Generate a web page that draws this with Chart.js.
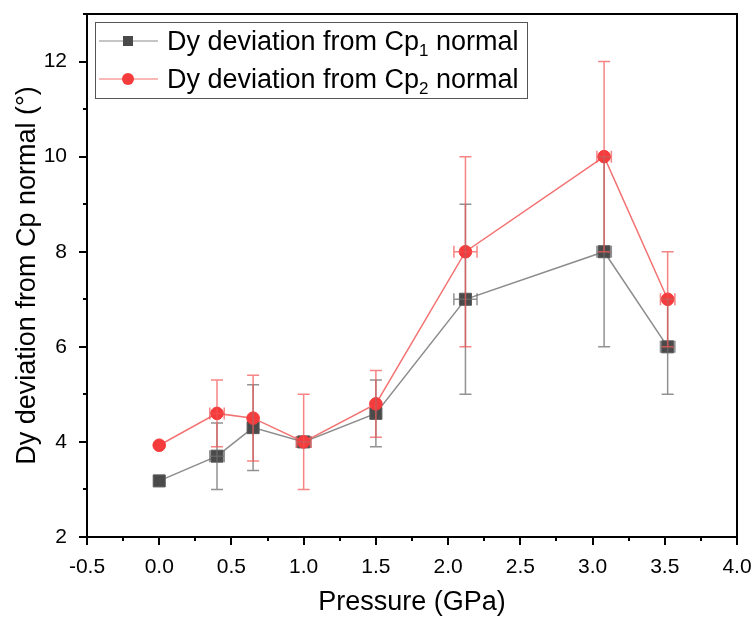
<!DOCTYPE html>
<html>
<head>
<meta charset="utf-8">
<script src="https://cdn.jsdelivr.net/npm/chart.js@4"></script>
<style>
  html, body { margin: 0; padding: 0; background: #fff; }
  #wrap { width: 755px; height: 619px; }
</style>
</head>
<body>
<div id="wrap"><canvas id="chart" width="755" height="619"></canvas></div>
<script>
// pressure (GPa)
const pressure = [0, 0.4, 0.65, 1.0, 1.5, 2.12, 3.08, 3.52];
const pressureErr = [0, 0.05, 0, 0.05, 0, 0.08, 0.05, 0.05];

// deviation from Cp1 normal (deg)
const cp1 = [3.18, 3.7, 4.3, 4.0, 4.6, 7.0, 8.0, 6.0];
const cp1Err = [0, 0.7, 0.9, 0, 0.7, 2.0, 2.0, 1.0];

// deviation from Cp2 normal (deg)
const cp2 = [3.93, 4.6, 4.5, 4.0, 4.8, 8.0, 10.0, 7.0];
const cp2Err = [0, 0.7, 0.9, 1.0, 0.7, 2.0, 2.0, 1.0];

const xTicks = [-0.5, 0, 0.5, 1.0, 1.5, 2.0, 2.5, 3.0, 3.5, 4.0];
const yTicks = [2, 4, 6, 8, 10, 12];

const FONT = "'Liberation Sans', Arial, sans-serif";

function points(ys) {
  return pressure.map((x, i) => ({ x: x, y: ys[i] }));
}

// error bars, frame, tick marks and legend
const extras = {
  id: "extras",
  afterDatasetsDraw(chart) {
    const ctx = chart.ctx;
    const xs = chart.scales.x, ys = chart.scales.y;
    const sets = [
      { y: cp1, e: cp1Err, color: "rgba(110,110,110,0.75)" },
      { y: cp2, e: cp2Err, color: "rgba(242,80,80,0.7)" },
    ];
    ctx.save();
    ctx.lineWidth = 1.5;
    sets.forEach(s => {
      ctx.strokeStyle = s.color;
      pressure.forEach((x, i) => {
        const px = xs.getPixelForValue(x);
        const py = ys.getPixelForValue(s.y[i]);
        if (s.e[i] > 0) {
          const top = ys.getPixelForValue(s.y[i] + s.e[i]);
          const bot = ys.getPixelForValue(s.y[i] - s.e[i]);
          ctx.beginPath();
          ctx.moveTo(px, top); ctx.lineTo(px, bot);
          ctx.moveTo(px - 6, top); ctx.lineTo(px + 6, top);
          ctx.moveTo(px - 6, bot); ctx.lineTo(px + 6, bot);
          ctx.stroke();
        }
        if (pressureErr[i] > 0) {
          const l = xs.getPixelForValue(x - pressureErr[i]);
          const r = xs.getPixelForValue(x + pressureErr[i]);
          ctx.beginPath();
          ctx.moveTo(l, py); ctx.lineTo(r, py);
          ctx.moveTo(l, py - 6); ctx.lineTo(l, py + 6);
          ctx.moveTo(r, py - 6); ctx.lineTo(r, py + 6);
          ctx.stroke();
        }
      });
    });
    ctx.restore();
  },
  afterDraw(chart) {
    const ctx = chart.ctx;
    const xs = chart.scales.x, ys = chart.scales.y;
    const L = Math.round(xs.getPixelForValue(-0.5));
    const R = Math.round(xs.getPixelForValue(4.0));
    const T = Math.round(ys.getPixelForValue(13));
    const B = Math.round(ys.getPixelForValue(2));
    ctx.save();
    ctx.fillStyle = "#000";
    // frame
    ctx.fillRect(L - 1, T - 1, R - L + 2, 2);
    ctx.fillRect(L - 1, B - 1, R - L + 2, 2);
    ctx.fillRect(L - 1, T - 1, 2, B - T + 2);
    ctx.fillRect(R - 1, T - 1, 2, B - T + 2);
    // x ticks: major + minor
    for (let k = 0; k <= 18; k++) {
      const v = -0.5 + k * 0.25;
      const px = Math.round(xs.getPixelForValue(v));
      const len = k % 2 === 0 ? 8 : 4;
      ctx.fillRect(px - 1, B, 2, len);
    }
    // y ticks
    for (let v = 2; v <= 13; v++) {
      const py = Math.round(ys.getPixelForValue(v));
      const len = v % 2 === 0 ? 8 : 4;
      ctx.fillRect(L - len, py - 1, len, 2);
    }

    // legend
    const bx = 95, by = 22, bw = 432, bh = 76;
    ctx.lineWidth = 1;
    ctx.strokeStyle = "#555";
    ctx.strokeRect(bx + 0.5, by + 0.5, bw, bh);
    const rows = [
      { sub: "1", line: "#8c8c8c", fill: "#4a4a4a", shape: "rect", cy: 41 },
      { sub: "2", line: "#f47272", fill: "#f53b3b", shape: "circle", cy: 79 },
    ];
    rows.forEach(r => {
      ctx.strokeStyle = r.line;
      ctx.lineWidth = 1.2;
      ctx.beginPath();
      ctx.moveTo(99, r.cy); ctx.lineTo(158, r.cy);
      ctx.stroke();
      ctx.fillStyle = r.fill;
      if (r.shape === "rect") {
        ctx.fillRect(123, r.cy - 5, 10, 10);
      } else {
        ctx.beginPath();
        ctx.arc(128, r.cy, 6, 0, Math.PI * 2);
        ctx.fill();
      }
      ctx.fillStyle = "#000";
      ctx.textBaseline = "alphabetic";
      ctx.textAlign = "left";
      ctx.font = "27px " + FONT;
      let tx = 167;
      const base = r.cy + 9;
      const t1 = "Dy deviation from Cp";
      ctx.fillText(t1, tx, base);
      tx += ctx.measureText(t1).width;
      ctx.font = "17px " + FONT;
      ctx.fillText(r.sub, tx, base + 6);
      tx += ctx.measureText(r.sub).width;
      ctx.font = "27px " + FONT;
      ctx.fillText(" normal", tx, base);
    });
    ctx.restore();
  }
};

new Chart(document.getElementById("chart"), {
  type: "scatter",
  data: {
    datasets: [
      {
        label: "Dy deviation from Cp1 normal",
        data: points(cp1),
        showLine: true,
        borderColor: "#8c8c8c",
        borderWidth: 1.5,
        backgroundColor: "#4a4a4a",
        pointBackgroundColor: "#4a4a4a",
        pointBorderColor: "#5a5a5a",
        pointBorderWidth: 1,
        pointStyle: "rect",
        pointRadius: 8.5,
        order: 2,
      },
      {
        label: "Dy deviation from Cp2 normal",
        data: points(cp2),
        showLine: true,
        borderColor: "#f47272",
        borderWidth: 1.5,
        backgroundColor: "#f53b3b",
        pointBackgroundColor: "#f53b3b",
        pointBorderColor: "#f53b3b",
        pointBorderWidth: 1,
        pointStyle: "circle",
        pointRadius: 6.3,
        order: 1,
      },
    ],
  },
  plugins: [extras],
  options: {
    responsive: false,
    animation: false,
    layout: { padding: { top: 14, right: 18, left: 0, bottom: 0 } },
    plugins: { legend: { display: false }, tooltip: { enabled: false } },
    scales: {
      x: {
        type: "linear",
        min: -0.5,
        max: 4.0,
        afterBuildTicks: s => { s.ticks = xTicks.map(v => ({ value: v })); },
        afterFit: s => { s.height = 82; s.paddingLeft = 0; s.paddingRight = 0; },
        grid: { display: false },
        border: { display: false },
        ticks: {
          padding: 10,
          color: "#000",
          font: { family: FONT, size: 21 },
          callback: v => v.toFixed(1),
        },
        title: {
          display: true,
          text: "Pressure (GPa)",
          color: "#000",
          font: { family: FONT, size: 27 },
          padding: { top: 0, bottom: 0 },
        },
      },
      y: {
        type: "linear",
        min: 2,
        max: 13,
        afterBuildTicks: s => { s.ticks = yTicks.map(v => ({ value: v })); },
        afterFit: s => { s.width = 87; s.paddingTop = 0; s.paddingBottom = 0; },
        grid: { display: false },
        border: { display: false },
        ticks: {
          padding: 12,
          color: "#000",
          font: { family: FONT, size: 21 },
        },
        title: {
          display: true,
          text: "Dy deviation from Cp normal (°)",
          color: "#000",
          font: { family: FONT, size: 27 },
          padding: { top: 11, bottom: 0 },
        },
      },
    },
  },
});
</script>
</body>
</html>
